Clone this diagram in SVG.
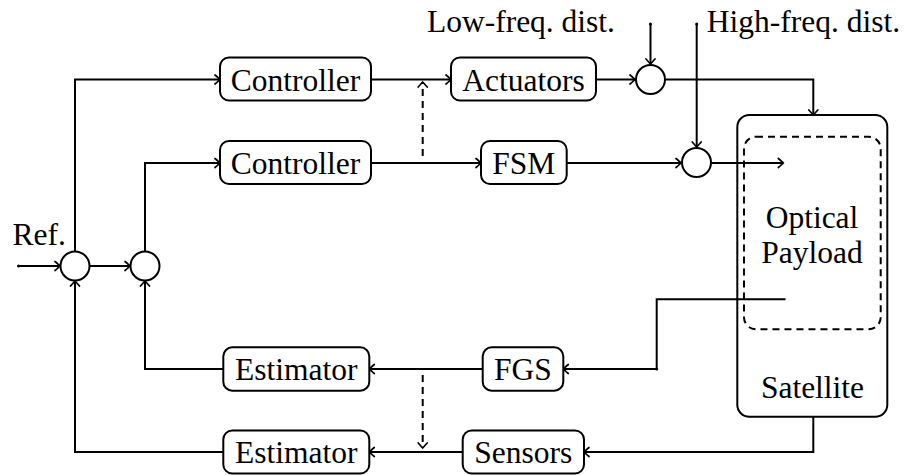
<svg xmlns="http://www.w3.org/2000/svg" width="905" height="475" viewBox="0 0 905 475">
<defs>
<style>
.box{fill:#fff;stroke:#000;stroke-width:2}
.sum{fill:#fff;stroke:#000;stroke-width:2}
.ln{fill:none;stroke:#000;stroke-width:2;marker-end:url(#a)}
.dash{stroke-dasharray:7 5}
text{font-family:'Liberation Serif','Times New Roman',serif;font-size:31.5px;fill:#000}
.c{text-anchor:middle}
</style>
<marker id="a" viewBox="-7 -6 9 12" markerWidth="9" markerHeight="12" refX="0" refY="0" orient="auto" markerUnits="userSpaceOnUse">
<path d="M-5,-4.5 Q-1,-1 0,0 Q-1,1 -5,4.5" fill="none" stroke="#000" stroke-width="1.7" stroke-linecap="round"/>
</marker>
</defs>
<rect width="905" height="475" fill="#fff"/>

<g id="connectors">
<circle cx="18.5" cy="266" r="1.5"/>
<path class="ln" d="M18.5,266 H60"/>
<path class="ln" d="M90,266 H130"/>
<path class="ln" d="M75,251 V79.5 H220"/>
<path class="ln" d="M145,251 V163 H220"/>
<path class="ln" d="M371,79.5 H451"/>
<path class="ln" d="M371,163 H481"/>
<path class="ln dash" d="M422.7,156 V82"/>
<path class="ln" d="M596,79.5 H635"/>
<circle cx="650.5" cy="24" r="1.5"/>
<path class="ln" d="M650.5,24 V64"/>
<path class="ln" d="M666,79.5 H813.3 V115"/>
<circle cx="696.7" cy="24" r="1.5"/>
<path class="ln" d="M696.7,24 V147"/>
<path class="ln" d="M566.7,163 H681"/>
<path class="ln" d="M712,163 H783.3"/>
<circle cx="656.7" cy="369" r="1.5"/>
<path class="ln" d="M785.5,299.3 H656.7 V369 H563.3"/>
<path class="ln" d="M482.7,369 H369.3"/>
<path class="ln" d="M223.3,369 H145 V281"/>
<path class="ln" d="M223.3,452 H75 V281"/>
<path class="ln" d="M813.3,416.7 V452 H584"/>
<path class="ln" d="M462.7,452 H369.3"/>
<path class="ln dash" d="M422.7,375 V448"/>
</g>

<g id="sum1"><circle class="sum" cx="75" cy="266" r="14.5"/></g>
<g id="sum2"><circle class="sum" cx="145" cy="266" r="14.5"/></g>
<g id="sum3"><circle class="sum" cx="650.5" cy="79.5" r="14.5"/></g>
<g id="sum4"><circle class="sum" cx="696.5" cy="162.5" r="14.5"/></g>

<g id="satellite">
<rect x="737.3" y="115" width="150" height="301.7" rx="12" fill="none" stroke="#000" stroke-width="2"/>
<text class="c" x="812.5" y="398">Satellite</text>
</g>
<g id="payload">
<rect x="744" y="136.7" width="136.7" height="192.6" rx="12" fill="none" stroke="#000" stroke-width="2" stroke-dasharray="7 5"/>
<text class="c" x="812" y="228.3">Optical</text>
<text class="c" x="812" y="263.3">Payload</text>
</g>

<g id="controller1"><rect class="box" x="220" y="57.5" width="151" height="43" rx="9"/><text class="c" x="295.5" y="90.5">Controller</text></g>
<g id="controller2"><rect class="box" x="220" y="141" width="151" height="43" rx="9"/><text class="c" x="295.5" y="174">Controller</text></g>
<g id="actuators"><rect class="box" x="451" y="57.5" width="145" height="43" rx="9"/><text class="c" x="523.5" y="90.5">Actuators</text></g>
<g id="fsm"><rect class="box" x="481" y="141" width="85.7" height="43" rx="9"/><text class="c" x="523.8" y="174">FSM</text></g>
<g id="fgs"><rect class="box" x="482.7" y="347.3" width="80.6" height="43.4" rx="9"/><text class="c" x="523" y="380">FGS</text></g>
<g id="sensors"><rect class="box" x="462.7" y="430.5" width="121.3" height="43" rx="9"/><text class="c" x="523.3" y="463">Sensors</text></g>
<g id="estimator1"><rect class="box" x="223.3" y="347.3" width="146" height="43.4" rx="9"/><text class="c" x="296.3" y="380">Estimator</text></g>
<g id="estimator2"><rect class="box" x="223.3" y="430.5" width="146" height="43" rx="9"/><text class="c" x="296.3" y="463">Estimator</text></g>

<g id="labels">
<text x="12.5" y="245">Ref.</text>
<text x="615" y="32" text-anchor="end">Low-freq. dist.</text>
<text x="706.7" y="32">High-freq. dist.</text>
</g>
</svg>
